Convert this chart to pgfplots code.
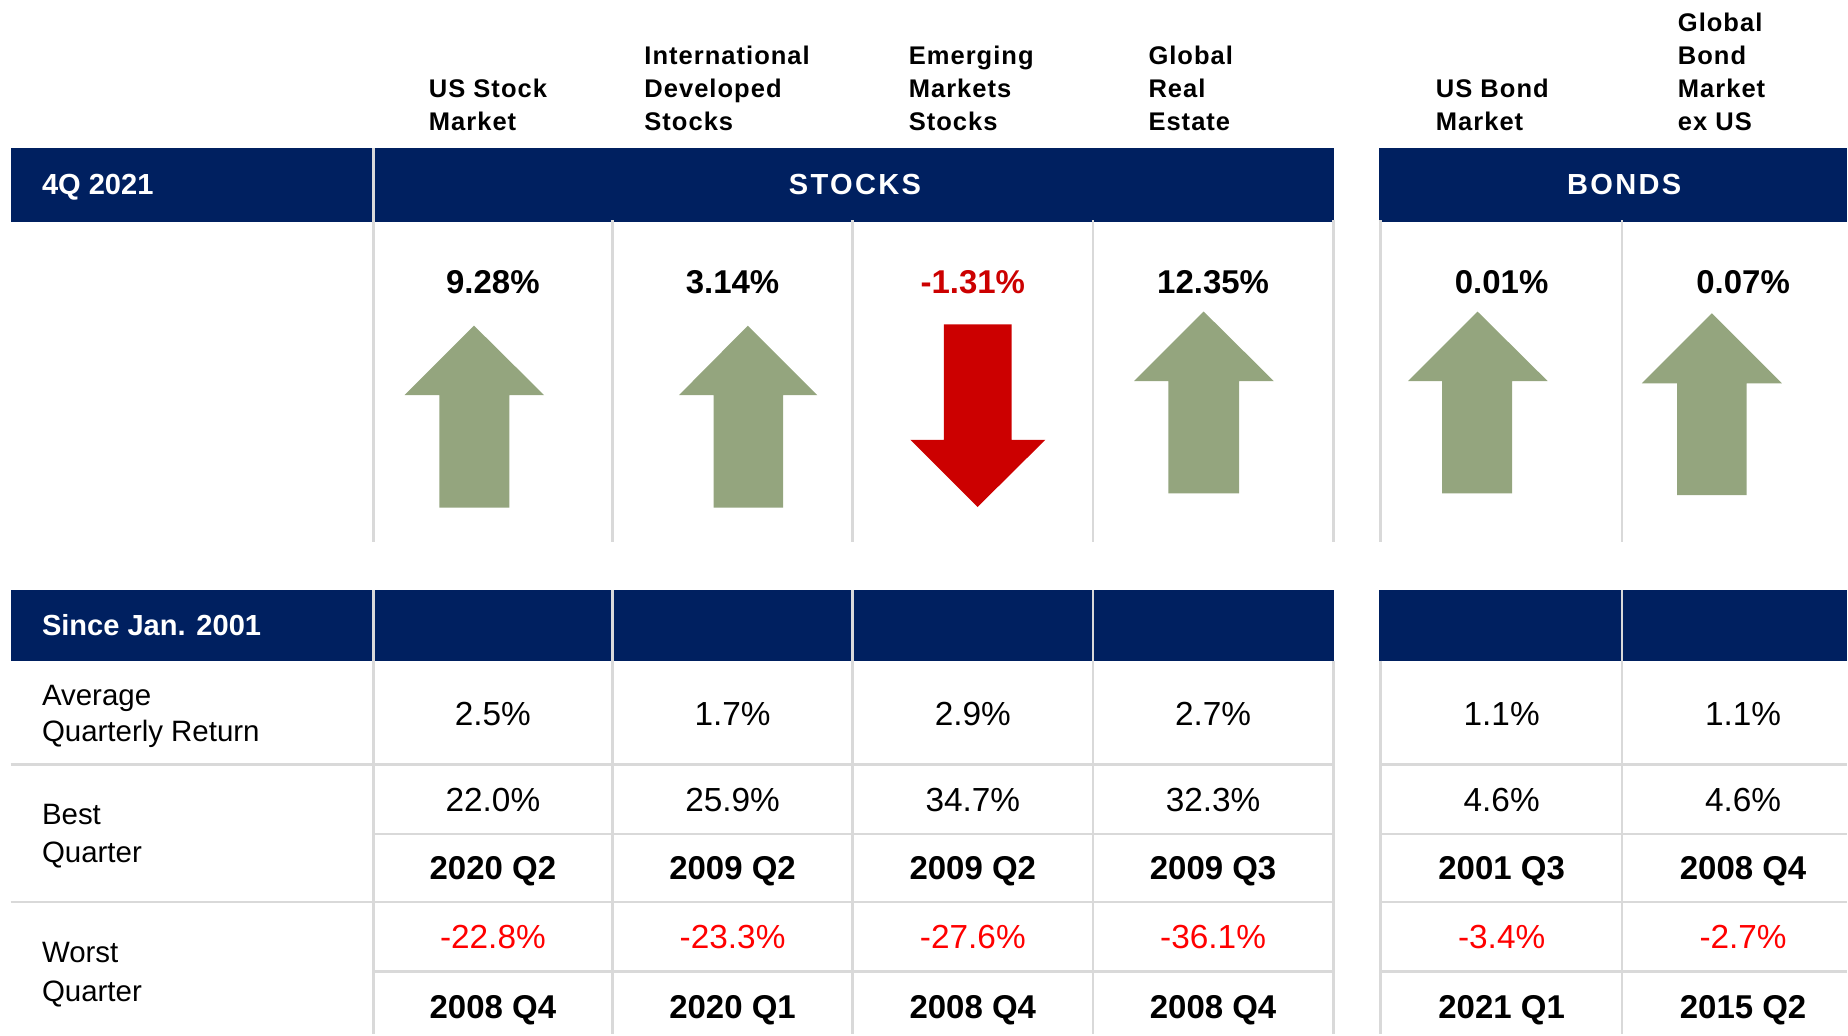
\documentclass[border=0pt]{standalone}
\usepackage{pgfplots}
\pgfplotsset{compat=1.18}
\usepackage{fontspec}
\setmainfont{Liberation Sans}
\newfontfamily\hdrfont[LetterSpace=4]{Liberation Sans}
\newfontfamily\bandfont[LetterSpace=8]{Liberation Sans}

\definecolor{navy}{HTML}{002060}
\definecolor{upgreen}{HTML}{94A57E}
\definecolor{downred}{HTML}{CC0000}
\definecolor{gridgray}{HTML}{D9D9D9}
\definecolor{negred}{HTML}{FF0000}

\tikzset{
  hdr/.style={anchor=base west, inner sep=0pt, font=\hdrfont\bfseries\fontsize{6.5}{7}\selectfont},
  band/.style={anchor=base west, inner sep=0pt, text=white, font=\bfseries\fontsize{7.4}{8}\selectfont},
  bandc/.style={anchor=base, inner sep=0pt, text=white, font=\bandfont\bfseries\fontsize{7.4}{8}\selectfont},
  big/.style={anchor=base, inner sep=0pt, font=\bfseries\fontsize{8.4}{9}\selectfont},
  val/.style={anchor=base, inner sep=0pt, font=\fontsize{8.5}{9}\selectfont},
  neg/.style={val, text=negred},
  date/.style={anchor=base, inner sep=0pt, font=\bfseries\fontsize{8.4}{9}\selectfont},
  lbl/.style={anchor=base west, inner sep=0pt, font=\fontsize{7.5}{8}\selectfont},
  grid line/.style={draw=gridgray, line width=0.65pt},
}

% one row of six cells: style, baseline, then the six entries
\newcommand\sixcells[8]{%
  \node[#1] at (axis cs:418.5,#2) {#3};
  \node[#1] at (axis cs:622,#2) {#4};
  \node[#1] at (axis cs:826,#2) {#5};
  \node[#1] at (axis cs:1030,#2) {#6};
  \node[#1] at (axis cs:1275,#2) {#7};
  \node[#1] at (axis cs:1480,#2) {#8};
}

\begin{document}
\begin{tikzpicture}
\begin{axis}[
    hide axis,
    scale only axis,
    width=470.4pt, height=263.4pt,
    xmin=0, xmax=1568, ymin=0, ymax=878,
    y dir=reverse,
    clip=false,
]
% page frame
\path (axis cs:0,0) rectangle (axis cs:1568,878);

% navy header bands
\fill[navy] (axis cs:9,126) rectangle (axis cs:316,188.5);
\fill[navy] (axis cs:318,126) rectangle (axis cs:1132.5,188.5);
\fill[navy] (axis cs:1171,126) rectangle (axis cs:1568,188.5);
\fill[navy] (axis cs:9,501) rectangle (axis cs:1132.5,561);
\fill[navy] (axis cs:1171,501) rectangle (axis cs:1568,561);

% grid lines, upper block
\draw[grid line] (axis cs:317,126) -- (axis cs:317,460);
\draw[grid line] (axis cs:520,187) -- (axis cs:520,460);
\draw[grid line] (axis cs:724,187) -- (axis cs:724,460);
\draw[grid line] (axis cs:928,187) -- (axis cs:928,460);
\draw[grid line] (axis cs:1132,187) -- (axis cs:1132,460);
\draw[grid line] (axis cs:1172,187) -- (axis cs:1172,460);
\draw[grid line] (axis cs:1377,187) -- (axis cs:1377,460);

% grid lines, lower block
\draw[grid line] (axis cs:317,501) -- (axis cs:317,878);
\draw[grid line] (axis cs:520,501) -- (axis cs:520,878);
\draw[grid line] (axis cs:724,501) -- (axis cs:724,878);
\draw[grid line] (axis cs:928,501) -- (axis cs:928,878);
\draw[grid line] (axis cs:1132,561) -- (axis cs:1132,878);
\draw[grid line] (axis cs:1172,561) -- (axis cs:1172,878);
\draw[grid line] (axis cs:1377,501) -- (axis cs:1377,878);
\draw[grid line] (axis cs:9,649) -- (axis cs:1132,649);
\draw[grid line] (axis cs:1172,649) -- (axis cs:1568,649);
\draw[grid line] (axis cs:317,708) -- (axis cs:1132,708);
\draw[grid line] (axis cs:1172,708) -- (axis cs:1568,708);
\draw[grid line] (axis cs:9,766) -- (axis cs:1132,766);
\draw[grid line] (axis cs:1172,766) -- (axis cs:1568,766);
\draw[grid line] (axis cs:317,825) -- (axis cs:1132,825);
\draw[grid line] (axis cs:1172,825) -- (axis cs:1568,825);

% arrows: direction of the 4Q 2021 return
\addplot[fill=upgreen, draw=none] coordinates {
  (373,431) (373,335.5) (343.5,335.5) (402.5,276.5) (462,335.5) (432.5,335.5) (432.5,431)};
\addplot[fill=upgreen, draw=none] coordinates {
  (606,431) (606,335.5) (576.5,335.5) (635,276.5) (694,335.5) (665,335.5) (665,431)};
\addplot[fill=downred, draw=none] coordinates {
  (801.5,275.5) (859,275.5) (859,373.5) (887.5,373.5) (830,430.5) (773,373.5) (801.5,373.5)};
\addplot[fill=upgreen, draw=none] coordinates {
  (992,419) (992,323.5) (963,323.5) (1022,264.5) (1081.5,323.5) (1052,323.5) (1052,419)};
\addplot[fill=upgreen, draw=none] coordinates {
  (1224.5,419) (1224.5,323.5) (1195.5,323.5) (1254.5,264.5) (1314,323.5) (1284,323.5) (1284,419)};
\addplot[fill=upgreen, draw=none] coordinates {
  (1424,420.5) (1424,325.5) (1394,325.5) (1453.5,266) (1513,325.5) (1483,325.5) (1483,420.5)};

% column headings
\node[hdr] at (axis cs:363.5,82.4) {US Stock};
\node[hdr] at (axis cs:363.5,110.6) {Market};
\node[hdr] at (axis cs:546.5,54.5) {International};
\node[hdr] at (axis cs:546.5,82.4) {Developed};
\node[hdr] at (axis cs:546.5,110.6) {Stocks};
\node[hdr] at (axis cs:771,54.5) {Emerging};
\node[hdr] at (axis cs:771,82.4) {Markets};
\node[hdr] at (axis cs:771,110.6) {Stocks};
\node[hdr] at (axis cs:974.5,54.5) {Global};
\node[hdr] at (axis cs:974.5,82.4) {Real};
\node[hdr] at (axis cs:974.5,110.6) {Estate};
\node[hdr] at (axis cs:1218.5,82.4) {US Bond};
\node[hdr] at (axis cs:1218.5,110.6) {Market};
\node[hdr] at (axis cs:1424,26.6) {Global};
\node[hdr] at (axis cs:1424,54.5) {Bond};
\node[hdr] at (axis cs:1424,82.4) {Market};
\node[hdr] at (axis cs:1424,110.6) {ex US};

% band texts
\node[band] at (axis cs:35,165.5) {4Q 2021};
\node[bandc] at (axis cs:726,165.5) {STOCKS};
\node[bandc] at (axis cs:1379,165.5) {BONDS};
\node[band] at (axis cs:35,540) {Since Jan. 2001};

% 4Q 2021 returns
\sixcells{big}{249}{9.28\%}{3.14\%}{\textcolor{downred}{-1.31\%}}{12.35\%}{0.01\%}{0.07\%}

% row labels
\node[lbl] at (axis cs:35,598.8) {Average};
\node[lbl] at (axis cs:35,630) {Quarterly Return};
\node[lbl] at (axis cs:35,700) {Best};
\node[lbl] at (axis cs:35,732.5) {Quarter};
\node[lbl] at (axis cs:35,817.4) {Worst};
\node[lbl] at (axis cs:35,850) {Quarter};

% since Jan. 2001 statistics
\sixcells{val}{615.7}{2.5\%}{1.7\%}{2.9\%}{2.7\%}{1.1\%}{1.1\%}
\sixcells{val}{688.7}{22.0\%}{25.9\%}{34.7\%}{32.3\%}{4.6\%}{4.6\%}
\sixcells{date}{746.7}{2020 Q2}{2009 Q2}{2009 Q2}{2009 Q3}{2001 Q3}{2008 Q4}
\sixcells{neg}{805.5}{-22.8\%}{-23.3\%}{-27.6\%}{-36.1\%}{-3.4\%}{-2.7\%}
\sixcells{date}{864.9}{2008 Q4}{2020 Q1}{2008 Q4}{2008 Q4}{2021 Q1}{2015 Q2}
\end{axis}
\end{tikzpicture}
\end{document}
